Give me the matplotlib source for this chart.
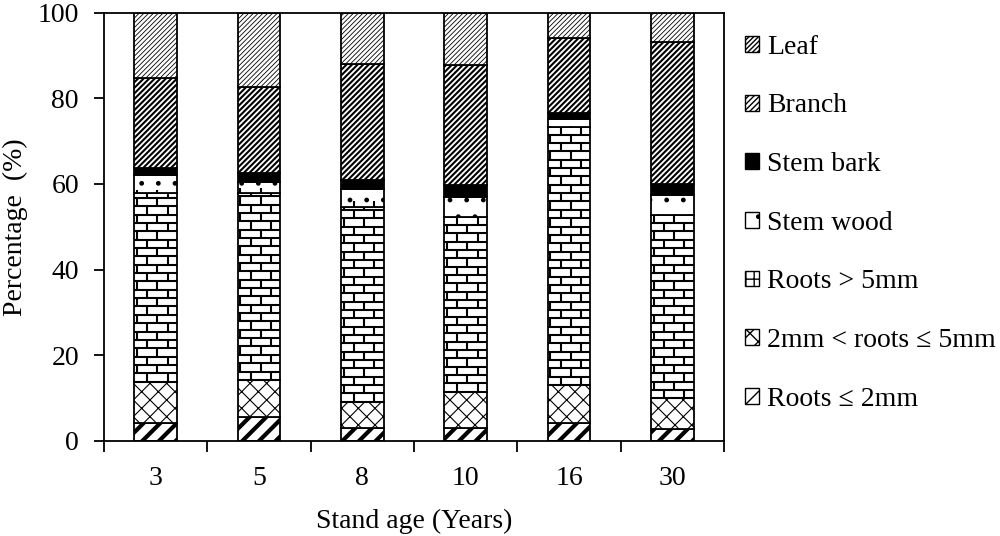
import numpy as np
import matplotlib
matplotlib.use('Agg')
import matplotlib.pyplot as plt
from matplotlib.patches import Patch
from matplotlib.collections import LineCollection

plt.rcParams['font.family'] = ['Liberation Serif', 'DejaVu Serif']

# data (percent of total biomass)
ages = ['3', '5', '8', '10', '16', '30']
roots_le2 = [4.1, 5.6, 2.9, 2.9, 4.2, 2.7]
roots_2to5 = [9.7, 8.6, 6.2, 8.5, 8.8, 7.2]
roots_gt5 = [44.1, 43.6, 45.6, 40.9, 60.4, 42.8]
stem_wood = [4.2, 2.7, 4.2, 4.7, 1.7, 4.7]
stem_bark = [1.7, 2.1, 2.0, 2.7, 1.4, 2.6]
branch = [20.9, 20.1, 27.1, 28.1, 17.7, 33.3]
leaf = [15.3, 17.3, 12.0, 12.2, 5.8, 6.7]

labels = ['Roots \u2264 2mm', '2mm < roots \u2264 5mm', 'Roots > 5mm',
          'Stem wood', 'Stem bark', 'Branch', 'Leaf']
series = [roots_le2, roots_2to5, roots_gt5, stem_wood, stem_bark, branch, leaf]
# facecolor, hatch, hatch linewidth
styles = [('white', '//', 3.0),
          ('white', 'xx', 0.8),
          ('white', '', 1.0),   # bricks drawn by hand below
          ('white', '.', 1.0),
          ('black', '', 1.0),
          ('white', '//////', 1.5),
          ('white', '///////', 0.6)]


def set_hlw(p, lw):
    if hasattr(p, 'set_hatch_linewidth'):
        p.set_hatch_linewidth(lw)
    else:
        p._hatch_linewidth = lw


def draw_bricks(ax, rect, row_h=1.95, frac=0.48):
    x0, y0 = rect.get_x(), rect.get_y()
    w, h = rect.get_width(), rect.get_height()
    L = w * frac
    segs = []
    nrows = int(np.ceil(h / row_h))
    for i in range(nrows + 1):
        y = y0 + i * row_h
        if y < y0 + h:
            segs.append([(x0, y), (x0 + w, y)])
        ytop = min(y + row_h, y0 + h)
        off = 0.3 * w if i % 2 == 0 else 0.3 * w + L / 2
        xs = x0 + off - 2 * L
        while xs < x0 + w:
            if xs > x0:
                segs.append([(xs, y), (xs, ytop)])
            xs += L
    lc = LineCollection(segs, colors='black', linewidths=1.5, zorder=3)
    lc.set_clip_path(rect)
    ax.add_collection(lc)


fig = plt.figure(figsize=(10, 5.36), dpi=100)
ax = fig.add_axes([0.104, 0.178, 0.62, 0.798])

x = np.arange(len(ages))
bottom = np.zeros(len(ages))
for vals, lab, (fc, hat, hlw) in zip(series, labels, styles):
    bars = ax.bar(x, vals, 0.41, bottom=bottom, color=fc, edgecolor='black',
                  hatch=hat if hat else None, linewidth=1.3, label=lab, zorder=2)
    for b in bars:
        set_hlw(b, hlw)
        if lab == 'Roots > 5mm':
            draw_bricks(ax, b)
    bottom += np.array(vals)

ax.set_xlim(-0.5, len(ages) - 0.5)
ax.set_ylim(0, 100)
ax.set_yticks(np.arange(0, 101, 20))
ax.set_xticks(x)
ax.set_xticklabels(ages)
ax.set_xticks(np.arange(-0.5, len(ages), 1.0), minor=True)
ax.tick_params(axis='x', which='major', length=0, pad=18, labelsize=20)
ax.tick_params(axis='x', which='minor', length=8, width=1.3, direction='out')
ax.tick_params(axis='y', length=7, width=1.3, direction='out', pad=11, labelsize=20)
for s in ax.spines.values():
    s.set_linewidth(1.3)

ax.set_xlabel('Stand age (Years)', fontsize=20, labelpad=13)
ax.set_ylabel('Percentage  (%)', fontsize=20, labelpad=7)

# legend, top entry = top of stack
handles = []
for lab, (fc, hat, hlw) in zip(labels, styles):
    if lab == 'Roots > 5mm':
        hat = '++'
    p = Patch(facecolor=fc, edgecolor='black', hatch=hat if hat else None,
              linewidth=1.0, label=lab)
    set_hlw(p, min(hlw, 1.5))
    handles.append(p)
fig.legend(handles[::-1], labels[::-1], loc='upper left',
           bbox_to_anchor=(0.745, 0.935), frameon=False, fontsize=20,
           handlelength=0.5, handleheight=0.5, handletextpad=0.3,
           labelspacing=1.21, borderpad=0, borderaxespad=0)

plt.savefig('out.png', dpi=100)
